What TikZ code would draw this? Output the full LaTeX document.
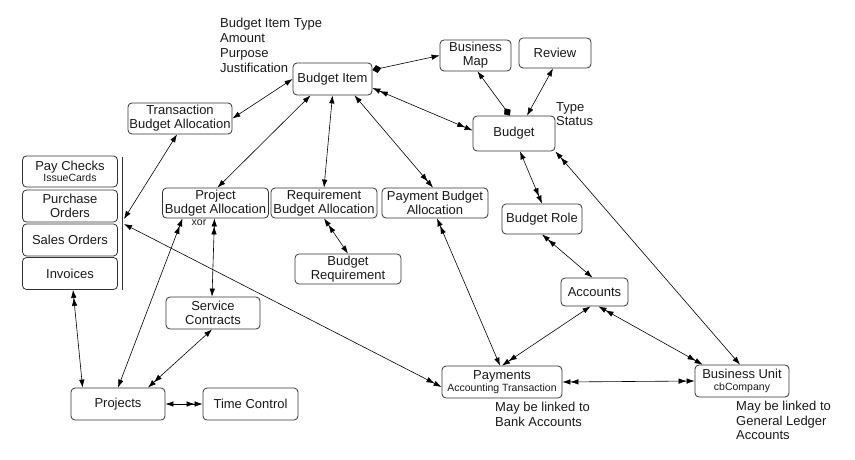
\documentclass[tikz,border=0pt]{standalone}
\usepackage{fontspec}
\setmainfont{Liberation Sans}
\usetikzlibrary{arrows.meta}
\tikzset{
 sa/.tip={Latex[length=8pt,width=5.5pt]},
 da/.tip={Latex[length=8pt,width=5.5pt] Latex[length=8pt,width=5.5pt]},
 dm/.tip={Diamond[length=9pt,width=8pt]},
 box/.style={draw=black!80, rounded corners=4pt, line width=0.8pt, inner sep=0pt, align=center, font=\fontsize{13}{14}\selectfont, text=black!90},
 lbl/.style={align=left, anchor=north west, inner sep=0pt, font=\fontsize{13}{14.5}\selectfont, text=black!90},
 conn/.style={line width=0.6pt, black},
}
\newcommand\smltxt[1]{{\fontsize{10.5}{12}\selectfont #1}}
\begin{document}
\begin{tikzpicture}[x=1pt,y=-1pt]
\useasboundingbox (0,0) rectangle (855,460);
% nodes
\node[box, minimum width=79pt, minimum height=32pt] (bi) at (332.5,79) {Budget Item};
\node[box, minimum width=71pt, minimum height=31pt] (bmap) at (475.5,55.5) {Business\\Map};
\node[box, minimum width=72pt, minimum height=30pt] (rev) at (555,53) {Review};
\node[box, minimum width=82pt, minimum height=35pt] (bud) at (514,133.5) {Budget};
\node[box, minimum width=104pt, minimum height=31pt] (tba) at (180,118.5) {Transaction\\Budget Allocation};
\node[box, minimum width=95pt, minimum height=31pt] (pay) at (70,171.5) {Pay Checks\\[-3pt]\smltxt{IssueCards}};
\node[box, minimum width=95pt, minimum height=32pt] (po) at (70,206) {Purchase\\Orders};
\node[box, minimum width=95pt, minimum height=32pt] (so) at (70,240) {Sales Orders};
\node[box, minimum width=95pt, minimum height=32pt] (inv) at (70,273.5) {Invoices};
\node[box, minimum width=106pt, minimum height=30pt] (pba) at (215.5,203) {Project\\Budget Allocation};
\node[box, minimum width=106pt, minimum height=30pt] (rba) at (324,203) {Requirement\\Budget Allocation};
\node[box, minimum width=106pt, minimum height=30pt] (payba) at (435,203) {Payment Budget\\Allocation};
\node[box, minimum width=80pt, minimum height=30pt] (brole) at (542,219) {Budget Role};
\node[box, minimum width=106pt, minimum height=30pt] (breq) at (348,269) {Budget\\Requirement};
\node[box, minimum width=94pt, minimum height=32pt] (sc) at (213,313) {Service\\Contracts};
\node[box, minimum width=67pt, minimum height=28pt] (acc) at (594.5,292) {Accounts};
\node[box, minimum width=94pt, minimum height=32pt] (proj) at (118,404) {Projects};
\node[box, minimum width=95pt, minimum height=32pt] (tc) at (250.5,404) {Time Control};
\node[box, minimum width=120pt, minimum height=32pt] (pmt) at (502,382) {Payments\\[-2pt]\smltxt{Accounting Transaction}};
\node[box, minimum width=94pt, minimum height=32pt] (bu) at (742,381) {Business Unit\\[-2pt]\smltxt{cbCompany}};
\node[inner sep=0pt, font=\fontsize{10.5}{12}\selectfont, text=black!90] (xor) at (199,223) {xor};
% text labels
\node[lbl, font=\fontsize{13}{15}\selectfont] (bitxt) at (220,18) {Budget Item Type\\Amount\\Purpose\\Justification};
\node[lbl] (tstxt) at (556,102) {Type\\Status};
\node[lbl] (banktxt) at (495,402) {May be linked to\\Bank Accounts};
\node[lbl] (gltxt) at (736,401) {May be linked to\\General Ledger\\Accounts};
% bar
\draw[line width=0.8pt, black!80] (122,157) coordinate (bartop) -- (122,290) coordinate (barbot);
\coordinate (bar1) at (124,219);
\coordinate (bar2) at (124,224);
% connectors
\draw[conn, sa-sa] (bi.west) -- (tba.east);
\draw[conn, dm-sa] ([yshift=9pt]bi.east) -- (bmap.west);
\draw[conn, da-da] ([yshift=-9pt]bi.east) -- ([yshift=3pt]bud.west);
\draw[conn, sa-sa] ([xshift=-22pt]bi.south) -- ([xshift=2pt]pba.north);
\draw[conn, sa-sa] (bi.south) -- (rba.north);
\draw[conn, sa-da] ([xshift=22pt]bi.south) -- ([xshift=-2pt]payba.north);
\draw[conn, sa-dm] ([xshift=2pt]bmap.south) -- ([xshift=-4pt]bud.north);
\draw[conn, sa-sa] ([xshift=-2pt]rev.south) -- ([xshift=13pt]bud.north);
\draw[conn, sa-da] ([xshift=6pt]bud.south) -- (brole.north);
\draw[conn, da-sa] (bud.south east) -- ([xshift=-2pt]bu.north);
\draw[conn, da-sa] (brole.south) -- ([xshift=-2pt]acc.north);
\draw[conn, sa-da] ([xshift=-4pt]acc.south) -- (pmt.north);
\draw[conn, da-da] ([xshift=4pt]acc.south) -- ([xshift=8pt]bu.north west);
\draw[conn, da-da] (pmt.east) -- (bu.west);
\draw[conn, da-sa] ([xshift=2pt]payba.south) -- ([xshift=-2pt]pmt.north);
\draw[conn, sa-da] (bar2) -- ([yshift=-5pt]pmt.west);
\draw[conn, sa-sa] ([xshift=-3pt]tba.south) -- (bar1);
\draw[conn, da-sa] (rba.south) -- (breq.north);
\draw[conn, da-sa] ([xshift=-1pt]pba.south) -- ([xshift=-1pt]sc.north);
\draw[conn, da-sa] ([xshift=-33pt]pba.south) -- (proj.north);
\draw[conn, sa-da] ([xshift=-1pt]sc.south) -- ([xshift=30pt]proj.north);
\draw[conn, da-sa] ([xshift=3pt]inv.south) -- ([xshift=12pt]proj.north west);
\draw[conn, sa-da] (proj.east) -- (tc.west);
\end{tikzpicture}
\end{document}
